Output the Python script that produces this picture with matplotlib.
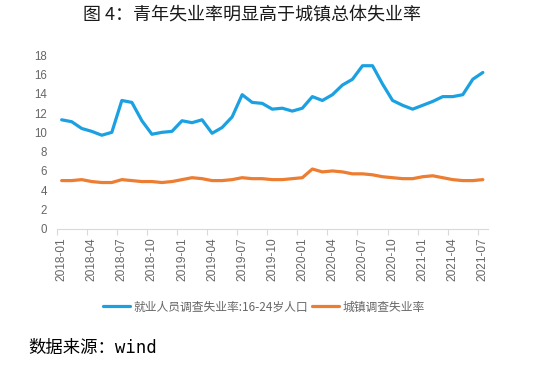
import matplotlib
matplotlib.use("Agg")
import matplotlib.pyplot as plt
import numpy as np

plt.rcParams['font.family'] = ['Liberation Sans', 'Noto Sans CJK SC', 'DejaVu Sans']

months = [f"{y}-{m:02d}" for y in range(2018, 2022) for m in range(1, 13)][:43]

youth = [11.3, 11.1, 10.4, 10.1, 9.7, 10.0, 13.3, 13.1, 11.2, 9.8, 10.0, 10.1,
         11.2, 11.0, 11.3, 9.9, 10.5, 11.6, 13.9, 13.1, 13.0, 12.4, 12.5, 12.2,
         12.5, 13.7, 13.3, 13.9, 14.9, 15.5, 16.9, 16.9, 15.0, 13.3, 12.8, 12.4,
         12.8, 13.2, 13.7, 13.7, 13.9, 15.5, 16.2]
urban = [5.0, 5.0, 5.1, 4.9, 4.8, 4.8, 5.1, 5.0, 4.9, 4.9, 4.8, 4.9,
         5.1, 5.3, 5.2, 5.0, 5.0, 5.1, 5.3, 5.2, 5.2, 5.1, 5.1, 5.2,
         5.3, 6.2, 5.9, 6.0, 5.9, 5.7, 5.7, 5.6, 5.4, 5.3, 5.2, 5.2,
         5.4, 5.5, 5.3, 5.1, 5.0, 5.0, 5.1]
series_names = ["就业人员调查失业率:16-24岁人口", "城镇调查失业率"]
yticks = [0, 2, 4, 6, 8, 10, 12, 14, 16, 18]

fig = plt.figure(figsize=(5.5, 3.65), dpi=100)
ax = fig.add_axes([0.103, 0.373, 0.784, 0.476])
x = np.arange(len(months))
ax.plot(x, youth, color='#1BA1E2', lw=2.3, label=series_names[0], solid_capstyle='round')
ax.plot(x, urban, color='#ED7D31', lw=2.3, label=series_names[1], solid_capstyle='round')

ax.set_xlim(-0.5, len(months) - 0.5)
ax.set_ylim(0, 18)
ax.set_yticks(yticks)
ax.set_yticklabels([str(v) for v in yticks], fontsize=8.3, color='#666666')
ax.tick_params(axis='y', length=0, pad=7)

lab_idx = list(range(0, len(months), 3))
ax.set_xticks(lab_idx)
ax.set_xticklabels([months[i] for i in lab_idx], rotation=90, fontsize=8.6, color='#666666')
ax.tick_params(axis='x', which='major', length=0, pad=6)
ax.set_xticks([i - 0.5 for i in lab_idx], minor=True)
ax.tick_params(axis='x', which='minor', length=4, color='#d9d9d9', width=0.8)

for s in ['left', 'right', 'top']:
    ax.spines[s].set_visible(False)
ax.spines['bottom'].set_color('#d9d9d9')
ax.spines['bottom'].set_linewidth(0.8)

leg = fig.legend(loc='center', bbox_to_anchor=(264/550, 1 - 307/365), ncol=2, frameon=False,
                 handlelength=2.3, handletextpad=0.3, columnspacing=0.3,
                 prop={'family': ['Noto Sans CJK SC'], 'size': 8.5})
for t in leg.get_texts():
    t.set_color('#666666')

fig.text(252/550, 1 - 16/365, "图 4：青年失业率明显高于城镇总体失业率", ha='center', va='center',
         fontsize=13, family=['Noto Sans CJK SC'], color='#1a1a1a')
fig.text(28/550, 1 - 348/365, "数据来源：wind", ha='left', va='center', fontsize=12.5,
         family=['DejaVu Sans Mono', 'Noto Sans CJK SC'], color='black')

fig.savefig("out.png", dpi=100)
